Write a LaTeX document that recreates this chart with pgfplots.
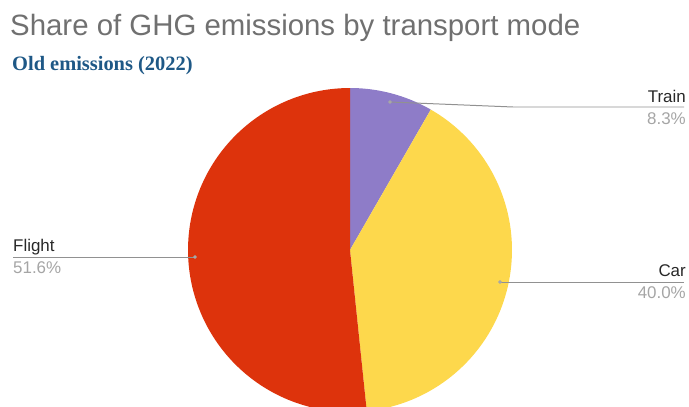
\documentclass[border=0pt]{standalone}
\usepackage{pgfplots}
\usepackage{pgfplotstable}
\pgfplotsset{compat=1.18}
\usepackage{fontspec}
\setmainfont{Liberation Sans}
\newfontfamily\serifbold{Liberation Serif}

\definecolor{trainc}{RGB}{142,124,200}
\definecolor{carc}{RGB}{253,216,76}
\definecolor{flightc}{RGB}{221,51,12}
\definecolor{titlec}{RGB}{112,112,112}
\definecolor{subc}{RGB}{30,88,134}
\definecolor{namec}{RGB}{40,40,40}
\definecolor{pctc}{RGB}{165,165,165}
\definecolor{leadc}{RGB}{145,145,145}

% share of emissions by mode, in percent (clockwise from 12 o'clock)
\pgfplotstableread{
mode   share
Train  8.3
Car    40.0
Flight 51.6
}\shares

\pgfplotstablegetelem{0}{share}\of\shares \let\sTrain\pgfplotsretval
\pgfplotstablegetelem{1}{share}\of\shares \let\sCar\pgfplotsretval
\pgfplotstablegetelem{2}{share}\of\shares \let\sFlight\pgfplotsretval

\pgfmathsetmacro{\total}{\sTrain+\sCar+\sFlight}
\pgfmathsetmacro{\degper}{360/\total}
\pgfmathsetmacro{\aA}{90}
\pgfmathsetmacro{\aB}{\aA-\degper*\sTrain}
\pgfmathsetmacro{\aC}{\aB-\degper*\sCar}
\pgfmathsetmacro{\aD}{\aC-\degper*\sFlight}

\def\cx{350}
\def\cy{157}
\def\rr{162}

\begin{document}
\begin{tikzpicture}
\useasboundingbox (0,0) rectangle (689bp,407bp);
\begin{axis}[
  at={(0,0)}, anchor=south west,
  x=1bp, y=1bp,
  xmin=0, xmax=689, ymin=0, ymax=407,
  hide axis, clip mode=individual,
]
% wedges
\addplot[fill=trainc, draw=none, domain=\aB:\aA, samples=40, variable=\t]
  ({\cx+\rr*cos(\t)},{\cy+\rr*sin(\t)}) -- (\cx,\cy) -- cycle;
\addplot[fill=carc, draw=none, domain=\aC:\aB, samples=80, variable=\t]
  ({\cx+\rr*cos(\t)},{\cy+\rr*sin(\t)}) -- (\cx,\cy) -- cycle;
\addplot[fill=flightc, draw=none, domain=\aD:\aC, samples=100, variable=\t]
  ({\cx+\rr*cos(\t)},{\cy+\rr*sin(\t)}) -- (\cx,\cy) -- cycle;

% leader lines
\addplot[leadc, line width=1pt] coordinates {(390,305) (513,300) (684,300)};
\addplot[leadc, line width=1pt] coordinates {(500,125) (684,125)};
\addplot[leadc, line width=1pt] coordinates {(13,150) (195,150)};
\addplot[only marks, mark=*, mark size=1.6pt, color=leadc!80!white]
  coordinates {(390,305) (500,125) (195,150)};

% titles
\node[anchor=base west, inner sep=0pt, text=titlec, font=\fontsize{29.5}{31}\selectfont]
  at (10,371) {Share of GHG emissions by transport mode};
\node[anchor=base west, inner sep=0pt, text=subc, font=\serifbold\bfseries\fontsize{20.5}{22}\selectfont]
  at (12,336) {Old emissions (2022)};

% slice labels
\node[anchor=base east, inner sep=0pt, text=namec, font=\fontsize{17}{19}\selectfont] at (686,304) {Train};
\node[anchor=base east, inner sep=0pt, text=pctc, font=\fontsize{17}{19}\selectfont] at (686,282) {8.3\%};
\node[anchor=base east, inner sep=0pt, text=namec, font=\fontsize{17}{19}\selectfont] at (686,130) {Car};
\node[anchor=base east, inner sep=0pt, text=pctc, font=\fontsize{17}{19}\selectfont] at (686,108) {40.0\%};
\node[anchor=base west, inner sep=0pt, text=namec, font=\fontsize{17}{19}\selectfont] at (13,155) {Flight};
\node[anchor=base west, inner sep=0pt, text=pctc, font=\fontsize{17}{19}\selectfont] at (13,133) {51.6\%};
\end{axis}
\end{tikzpicture}
\end{document}
